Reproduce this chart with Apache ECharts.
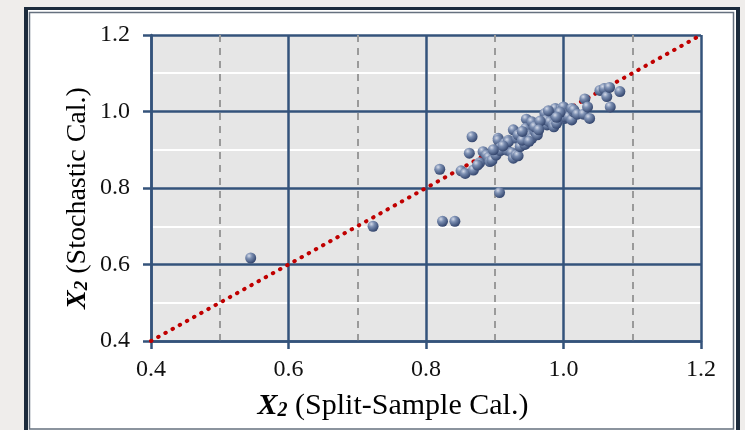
<!DOCTYPE html>
<html><head><meta charset="utf-8">
<script src="https://cdn.jsdelivr.net/npm/echarts@6/dist/echarts.min.js"></script>
<style>html,body{margin:0;padding:0;background:#efedeb;} #c{width:745px;height:430px;}</style>
</head><body><div id="c"></div>
<script>
// Axis ticks
const axisMin = 0.4;
const axisMax = 1.2;
const axisStep = 0.2;
// Axis titles
const xTitleText = "(Split-Sample Cal.)";
const yTitleText = "(Stochastic Cal.)";
// Series values: X2 split-sample calibration (x) vs X2 stochastic calibration (y)
const splitSampleX = [0.545,0.723,0.824,0.842,0.907,0.820,0.851,0.857,0.869,0.867,0.863,0.878,0.883,0.888,0.891,0.893,0.896,0.902,0.905,0.905,0.908,0.908,0.915,0.918,0.920,0.920,0.925,0.927,0.927,0.931,0.932,0.934,0.934,0.937,0.944,0.946,0.945,0.949,0.954,0.954,0.959,0.962,0.973,0.973,0.976,0.975,0.980,0.985,0.986,0.988,0.988,0.990,0.997,1.000,0.999,1.000,1.002,1.002,1.007,1.012,1.012,1.015,1.015,1.020,1.029,1.031,1.035,1.038,1.053,1.059,1.063,1.067,1.068,1.082,0.940,0.950,0.958,0.966,0.978,0.940,0.912,0.898,0.964,0.995,0.875,0.990];
const stochasticY = [0.617,0.700,0.713,0.713,0.788,0.849,0.845,0.838,0.847,0.934,0.891,0.866,0.895,0.886,0.880,0.869,0.872,0.886,0.930,0.925,0.905,0.898,0.917,0.899,0.925,0.921,0.892,0.952,0.878,0.886,0.930,0.939,0.884,0.908,0.914,0.980,0.956,0.939,0.973,0.930,0.947,0.939,0.981,0.995,0.965,0.978,0.973,0.965,0.960,0.991,1.008,0.969,1.008,1.012,0.995,0.991,0.982,0.986,0.986,1.008,0.978,0.999,1.004,0.993,0.993,1.033,1.012,0.982,1.055,1.060,1.039,1.063,1.012,1.052,0.925,0.922,0.960,0.975,1.002,0.948,0.910,0.900,0.952,0.998,0.860,0.985];
// 1:1 reference line
const refLineX = [0.4, 1.2];
const refLineY = [0.4, 1.2];

const points = splitSampleX.map((x, i) => [x, stochasticY[i]]);
const refLine = refLineX.map((x, i) => [x, refLineY[i]]);

const serif = "'Liberation Serif', 'Times New Roman', serif";
const blue = '#34537b';
function richTitle(size) {
  return {
    b: {fontFamily: serif, fontStyle: 'italic', fontWeight: 'bold', fontSize: size, color: '#111', verticalAlign: 'bottom'},
    s: {fontFamily: serif, fontStyle: 'italic', fontWeight: 'bold', fontSize: Math.round(size * 0.67), color: '#111', verticalAlign: 'bottom'},
    n: {fontFamily: serif, fontSize: size, color: '#111', verticalAlign: 'bottom'}
  };
}

const chart = echarts.init(document.getElementById('c'), null, {renderer: 'canvas'});
chart.setOption({
  backgroundColor: '#efedeb',
  animation: false,
  graphic: [
    {type: 'rect', z: -10, shape: {x: 24, y: 7, width: 716, height: 450}, style: {fill: '#1c2b3c'}},
    {type: 'rect', z: -9, shape: {x: 28, y: 10, width: 708, height: 445}, style: {fill: '#ffffff'}},
    {type: 'rect', z: -8, shape: {x: 29.5, y: 12.5, width: 704, height: 416.5}, style: {fill: '#ffffff', stroke: '#66717f', lineWidth: 1.5}},
    {type: 'text', z: 10, x: 393, y: 406, style: {text: '{b|X}{s|2}{n| ' + xTitleText + '}', rich: richTitle(30), align: 'center', verticalAlign: 'middle'}},
    {type: 'text', z: 10, x: 78, y: 198, rotation: Math.PI / 2, style: {text: '{b|X}{s|2}{n| ' + yTitleText + '}', rich: richTitle(28), align: 'center', verticalAlign: 'middle'}}
  ],
  grid: {left: 151, right: 44, top: 35, bottom: 89, show: true, backgroundColor: '#e6e6e6', borderWidth: 0},
  xAxis: {
    type: 'value', min: axisMin, max: axisMax, interval: axisStep,
    axisLine: {show: true, onZero: false, lineStyle: {color: blue, width: 2.5}},
    axisTick: {show: true, length: 8, lineStyle: {color: blue, width: 2.5}},
    axisLabel: {margin: 17, fontFamily: serif, fontSize: 24, color: '#111', formatter: v => v.toFixed(1)},
    splitLine: {show: true, lineStyle: {color: blue, width: 2.5}},
    minorTick: {show: false, splitNumber: 2},
    minorSplitLine: {show: true, lineStyle: {color: '#9a9a9a', width: 2, type: [7, 6]}}
  },
  yAxis: {
    type: 'value', min: axisMin, max: axisMax, interval: axisStep,
    axisLine: {show: true, onZero: false, lineStyle: {color: blue, width: 2.5}},
    axisTick: {show: true, length: 8, lineStyle: {color: blue, width: 2.5}},
    axisLabel: {margin: 21, fontFamily: serif, fontSize: 24, color: '#111', formatter: v => v.toFixed(1)},
    splitLine: {show: true, lineStyle: {color: blue, width: 2.5}},
    minorTick: {show: false, splitNumber: 2},
    minorSplitLine: {show: true, lineStyle: {color: '#ffffff', width: 2}}
  },
  series: [
    {
      type: 'line', data: refLine, symbol: 'none', clip: false, z: 3, silent: true,
      lineStyle: {color: '#c00000', width: 4, type: [0.5, 7.7], cap: 'round'}
    },
    {
      type: 'scatter', data: points, symbolSize: 11, z: 4,
      itemStyle: {
        opacity: 1,
        color: {type: 'radial', x: 0.35, y: 0.3, r: 0.75, colorStops: [
          {offset: 0, color: '#d4dae8'},
          {offset: 0.35, color: '#7c8fb2'},
          {offset: 0.8, color: '#45587f'},
          {offset: 1, color: '#2f4068'}
        ]}
      }
    }
  ]
});
</script></body></html>
